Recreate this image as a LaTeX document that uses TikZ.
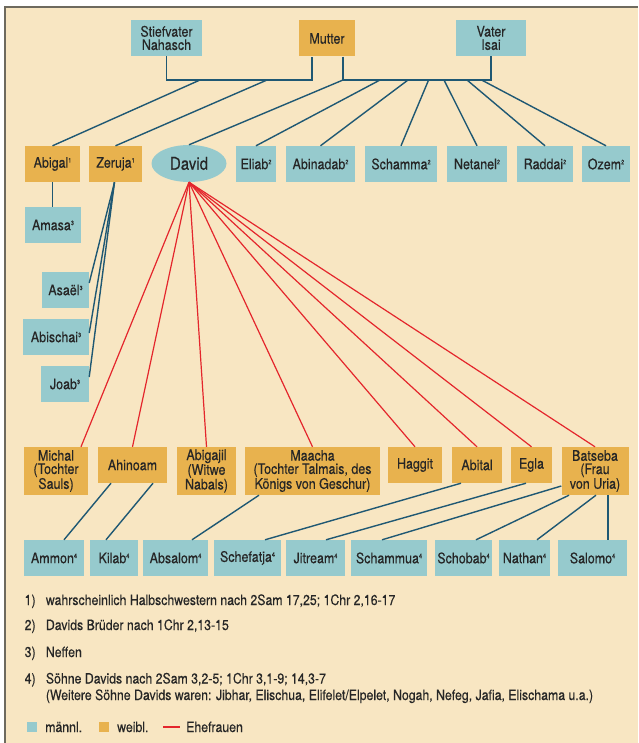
\documentclass[tikz,border=0pt]{standalone}
\usepackage{fontspec}
\setmainfont{TeX Gyre Heros}[FakeStretch=0.86,FakeBold=0.35]
\usetikzlibrary{calc,shapes.geometric}
\definecolor{bgbeige}{HTML}{F8E6C2}
\definecolor{malecol}{HTML}{96CACD}
\definecolor{femalecol}{HTML}{E8B24E}
\definecolor{linkcol}{HTML}{1F5873}
\definecolor{wifecol}{HTML}{E4262C}
\definecolor{framecol}{HTML}{6E6A5E}
\definecolor{inkcol}{HTML}{262626}
\newcommand\fnm[1]{\raisebox{5pt}{\fontsize{6.5}{6.5}\selectfont #1}}
\tikzset{
  basebox/.style={draw=none, inner sep=1pt, minimum height=36, text=inkcol, align=center,
    font=\fontsize{14.5}{13.3}\selectfont},
  mbox/.style={basebox, fill=malecol},
  fbox/.style={basebox, fill=femalecol},
  kin/.style={draw=linkcol, line width=1.4pt},
  wifeline/.style={draw=wifecol, line width=1.2pt},
  note/.style={inner sep=0, text=inkcol, font=\fontsize{14.3}{16}\selectfont}
}
\begin{document}
\begin{tikzpicture}[x=1pt,y=-1pt]
\useasboundingbox (0,0) rectangle (638,743);
\fill[white] (0,0) rectangle (638,743);
\fill[bgbeige] (5,7) rectangle (638,743);
\draw[framecol, line width=1.6pt] (5,743) -- (5,7) -- (638,7);

% top generation
\node[mbox, minimum width=71] (nahasch) at (166.5,38) {Stiefvater\\Nahasch};
\node[fbox, minimum width=56] (mutter) at (327,38.5) {Mutter};
\node[mbox, minimum width=70] (isai) at (491,38) {Vater\\Isai};

% second generation
\node[fbox, minimum width=55] (abigal) at (52.5,164) {Abigal\fnm{1}};
\node[fbox, minimum width=53] (zeruja) at (115.5,164) {Zeruja\fnm{1}};
\node[ellipse, fill=malecol, minimum width=75, minimum height=37, inner sep=0, text=inkcol,
  font=\fontsize{17.5}{17.5}\selectfont] (david) at (189,163.5) {David};
\node[mbox, minimum width=40] (eliab) at (256,164) {Eliab\fnm{2}};
\node[mbox, minimum width=69] (abinadab) at (320.5,164) {Abinadab\fnm{2}};
\node[mbox, minimum width=72] (schamma) at (401,164) {Schamma\fnm{2}};
\node[mbox, minimum width=60] (netanel) at (477,164) {Netanel\fnm{2}};
\node[mbox, minimum width=56] (raddai) at (545,164) {Raddai\fnm{2}};
\node[mbox, minimum width=48] (ozem) at (606,164) {Ozem\fnm{2}};

% nephews
\node[mbox, minimum width=56] (amasa) at (53,225) {Amasa\fnm{3}};
\node[mbox, minimum width=47] (asael) at (65.5,290) {Asaël\fnm{3}};
\node[mbox, minimum width=66] (abischai) at (56,337) {Abischai\fnm{3}};
\node[mbox, minimum width=48] (joab) at (65,384) {Joab\fnm{3}};

% wives
\node[fbox, minimum width=64, minimum height=48] (michal) at (56,471) {Michal\\(Tochter\\Sauls)};
\node[fbox, minimum width=69] (ahinoam) at (132.5,465) {Ahinoam};
\node[fbox, minimum width=59, minimum height=48] (abigajil) at (206.5,471) {Abigajil\\(Witwe\\Nabals)};
\node[fbox, minimum width=135, minimum height=48] (maacha) at (312.5,471) {Maacha\\(Tochter Talmais, des\\Königs von Geschur)};
\node[fbox, minimum width=54] (haggit) at (415,465) {Haggit};
\node[fbox, minimum width=50] (abital) at (477,465) {Abital};
\node[fbox, minimum width=41] (egla) at (531.5,465) {Egla};
\node[fbox, minimum width=67, minimum height=48] (batseba) at (595,471) {Batseba\\(Frau\\von Uria)};

% sons
\node[mbox, minimum width=60] (ammon) at (54,558) {Ammon\fnm{4}};
\node[mbox, minimum width=48] (kilab) at (114,558) {Kilab\fnm{4}};
\node[mbox, minimum width=65] (absalom) at (175.5,558) {Absalom\fnm{4}};
\node[mbox, minimum width=67] (schefatja) at (247.5,558) {Schefatja\fnm{4}};
\node[mbox, minimum width=59] (jitream) at (315.5,558) {Jitream\fnm{4}};
\node[mbox, minimum width=76] (schammua) at (389,558) {Schammua\fnm{4}};
\node[mbox, minimum width=57] (schobab) at (463.5,558) {Schobab\fnm{4}};
\node[mbox, minimum width=51] (nathan) at (524.5,558) {Nathan\fnm{4}};
\node[mbox, minimum width=69] (salomo) at (592.5,558) {Salomo\fnm{4}};

% parents connectors
\coordinate (bar) at (0,80);
\coordinate (mutL) at ([xshift=-15pt]mutter.south);
\coordinate (mutR) at ([xshift=16pt]mutter.south);
\draw[kin] (nahasch.south) -- (nahasch.south |- bar) -- (mutL |- bar) -- (mutL);
\draw[kin] (mutR) -- (mutR |- bar) -- (isai.south |- bar) -- (isai.south);
\coordinate (nm1) at (200,80);
\coordinate (nm2) at (267,80);
\draw[kin] (nm1) -- (abigal.north);
\draw[kin] (nm2) -- (zeruja.north);
\coordinate (mi1) at (380,80);
\coordinate (mi2) at (408,80);
\coordinate (mi3) at (428.6,80);
\coordinate (mi4) at (444,80);
\coordinate (mi5) at (467,80);
\coordinate (mi6) at (481.6,80);
\draw[kin] (mutR |- bar) -- (david.north);
\draw[kin] (mi1) -- (eliab.north);
\draw[kin] (mi2) -- (abinadab.north);
\draw[kin] (mi3) -- (schamma.north);
\draw[kin] (mi4) -- (netanel.north);
\draw[kin] (mi5) -- (raddai.north);
\draw[kin] (mi6) -- (ozem.north);

% nephews connectors
\draw[kin] (abigal.south) -- (abigal.south |- amasa.north);
\draw[kin] ([xshift=-1pt]zeruja.south) -- ([yshift=7pt]asael.east);
\draw[kin] ([xshift=-1pt]zeruja.south) -- ([yshift=4pt]abischai.east);
\draw[kin] ([xshift=-1pt]zeruja.south) -- ([yshift=7pt]joab.east);

% wives
\draw[wifeline] (david.south) -- ([xshift=25pt]michal.north);
\foreach \w in {ahinoam,abigajil,maacha,haggit,abital,egla,batseba}
  \draw[wifeline] (david.south) -- (\w.north);

% sons connectors
\draw[kin] ([xshift=-21.5pt]ahinoam.south) -- ([xshift=10pt]ammon.north);
\draw[kin] ([xshift=20.5pt]ahinoam.south) -- ([xshift=-8pt]kilab.north);
\draw[kin] ([xshift=-53.5pt]maacha.south) -- ([xshift=16.5pt]absalom.north);
\draw[kin] ([xshift=-16pt]abital.south) -- ([xshift=17.5pt]schefatja.north);
\draw[kin] ([xshift=-5.5pt]egla.south) -- ([xshift=10.5pt]jitream.north);
\draw[kin] ([yshift=-15pt]batseba.west) -- ([xshift=-7pt]schammua.north);
\draw[kin] ([xshift=-26pt]batseba.south) -- ([xshift=12.5pt]schobab.north);
\draw[kin] ([xshift=1pt]batseba.south) -- ([xshift=12.5pt]nathan.north);
\draw[kin] ([xshift=13pt]batseba.south) -- ([xshift=15.5pt]salomo.north);

% footnotes
\node[note, anchor=base west] (f1n) at (24.5,605) {1)};
\node[note, anchor=base west] (f1t) at (45.7,605) {wahrscheinlich Halbschwestern nach 2Sam 17,25; 1Chr 2,16-17};
\node[note, anchor=base west] (f2n) at (24.5,630) {2)};
\node[note, anchor=base west] (f2t) at (45.7,630) {Davids Brüder nach 1Chr 2,13-15};
\node[note, anchor=base west] (f3n) at (24.5,657) {3)};
\node[note, anchor=base west] (f3t) at (45.7,657) {Neffen};
\node[note, anchor=base west] (f4n) at (24.5,683.5) {4)};
\node[note, anchor=base west] (f4t) at (45.7,683.5) {Söhne Davids nach 2Sam 3,2-5; 1Chr 3,1-9; 14,3-7};
\node[note, anchor=base west] (f4u) at (45.7,700) {(Weitere Söhne Davids waren: Jibhar, Elischua, Elifelet/Elpelet, Nogah, Nefeg, Jafia, Elischama u.a.)};

% legend
\node[fill=malecol, minimum size=10pt, inner sep=0] (lgm) at (32,727) {};
\node[note, anchor=base west] (lgmt) at (45,732) {männl.};
\node[fill=femalecol, minimum size=10pt, inner sep=0] (lgf) at (104,727) {};
\node[note, anchor=base west] (lgft) at (117,732) {weibl.};
\coordinate (lgw1) at (163,727);
\coordinate (lgw2) at (180,727);
\draw[wifeline] (lgw1) -- (lgw2);
\node[note, anchor=base west] (lgwt) at (186,732) {Ehefrauen};
\end{tikzpicture}
\end{document}
